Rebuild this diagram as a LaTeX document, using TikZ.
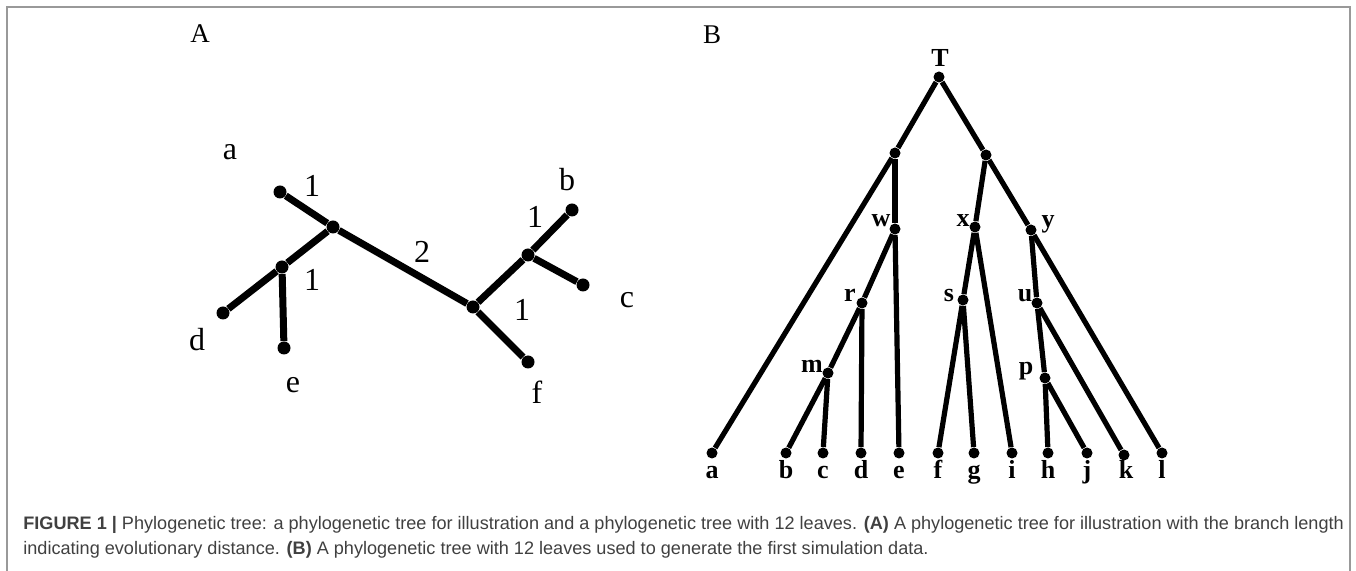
\documentclass[tikz,border=0pt]{standalone}
\usepackage{fontspec}
\setmainfont{Liberation Serif}
\setsansfont{Liberation Sans}
\begin{document}
\begin{tikzpicture}[x=0.5pt,y=-0.5pt,dot/.style={circle, fill=black, inner sep=0pt, minimum size=6.5pt},sdot/.style={dot, minimum size=5.5pt},branch/.style={line width=3.5pt},sbranch/.style={line width=2.6pt},lab/.style={inner sep=0pt, font=\fontsize{16}{16}\selectfont},blab/.style={inner sep=0pt, font=\fontsize{13}{13}\selectfont\bfseries},leaf/.style={blab, anchor=base},panel/.style={inner sep=0pt, font=\fontsize{13.5}{13.5}\selectfont},captext/.style={anchor=base west, inner sep=0pt, text=black!75, font=\sffamily\fontsize{9.05}{10}\selectfont}]
\useasboundingbox (0,0) rectangle (1356,571);
\draw[black!40, line width=1pt] (7,571) -- (7,7) -- (1350,7) -- (1350,571);
\node[panel] (pA) at (200,34) {A};\node[panel] (pB) at (712,35) {B};
\node[dot] (a) at (280,192) {};\node[dot] (n1) at (333,227) {};\node[dot] (n2) at (282,267) {};\node[dot] (d) at (223,313) {};\node[dot] (e) at (284,348) {};
\node[dot] (n3) at (473,307) {};\node[dot] (n4) at (528,255) {};\node[dot] (b) at (572,210) {};\node[dot] (c) at (583,285) {};\node[dot] (f) at (528,362) {};
\draw[branch] (a) -- (n1);\draw[branch] (n1) -- (n2);\draw[branch] (n2) -- (d);\draw[branch] (n2) -- (e);\draw[branch] (n1) -- (n3);
\draw[branch] (n3) -- (n4);\draw[branch] (n4) -- (b);\draw[branch] (n4) -- (c);\draw[branch] (n3) -- (f);
\node[lab] (la) at (230,152) {a};\node[lab] (ld) at (197,340) {d};\node[lab] (le) at (293,385) {e};\node[lab] (lb) at (567,180) {b};\node[lab] (lc) at (627,300) {c};\node[lab] (lf) at (537,392) {f};
\node[lab] (w1) at (312,186) {1};\node[lab] (w2) at (312,280) {1};\node[lab] (w3) at (422,252) {2};\node[lab] (w4) at (535,217) {1};\node[lab] (w5) at (522,310) {1};
\node[sdot] (T) at (939,77) {};\node[sdot] (q1) at (895,153) {};\node[sdot] (q2) at (986,155) {};
\node[sdot] (w) at (895,229) {};\node[sdot] (x) at (975,227) {};\node[sdot] (y) at (1031,230) {};
\node[sdot] (r) at (862,303) {};\node[sdot] (s) at (963,300) {};\node[sdot] (u) at (1037,303) {};
\node[sdot] (m) at (828,373) {};\node[sdot] (p) at (1045,378) {};
\node[sdot] (ta) at (712,453) {};\node[sdot] (tb) at (786,453) {};\node[sdot] (tc) at (823,453) {};\node[sdot] (td) at (861,453) {};\node[sdot] (te) at (899,453) {};\node[sdot] (tf) at (938,453) {};
\node[sdot] (tg) at (974,453) {};\node[sdot] (ti) at (1012,453) {};\node[sdot] (th) at (1048,453) {};\node[sdot] (tj) at (1087,453) {};\node[sdot] (tk) at (1124,455) {};\node[sdot] (tl) at (1162,453) {};
\draw[sbranch] (T) -- (q1);\draw[sbranch] (q1) -- (ta);\draw[sbranch] (q1) -- (w);\draw[sbranch] (w) -- (te);\draw[sbranch] (w) -- (r);\draw[sbranch] (r) -- (td);
\draw[sbranch] (r) -- (m);\draw[sbranch] (m) -- (tb);\draw[sbranch] (m) -- (tc);
\draw[sbranch] (T) -- (q2);\draw[sbranch] (q2) -- (x);\draw[sbranch] (q2) -- (y);\draw[sbranch] (x) -- (s);\draw[sbranch] (x) -- (ti);\draw[sbranch] (s) -- (tf);\draw[sbranch] (s) -- (tg);
\draw[sbranch] (y) -- (tl);\draw[sbranch] (y) -- (u);\draw[sbranch] (u) -- (tk);\draw[sbranch] (u) -- (p);\draw[sbranch] (p) -- (th);\draw[sbranch] (p) -- (tj);
\node[blab] (lT) at (940,58) {T};\node[blab] (lw) at (881,221) {w};\node[blab] (lx) at (963,221) {x};\node[blab] (ly) at (1048,224) {y};
\node[blab] (lr) at (850,295) {r};\node[blab] (ls) at (949,296) {s};\node[blab] (lu) at (1025,296) {u};\node[blab] (lm) at (812,366) {m};\node[blab] (lp) at (1026,371) {p};
\node[leaf] (lta) at (712,479) {a};\node[leaf] (ltb) at (786,479) {b};\node[leaf] (ltc) at (823,479) {c};\node[leaf] (ltd) at (861,479) {d};\node[leaf] (lte) at (899,479) {e};\node[leaf] (ltf) at (938,479) {f};
\node[leaf] (ltg) at (974,479) {g};\node[leaf] (lti) at (1012,479) {i};\node[leaf] (lth) at (1048,479) {h};\node[leaf] (ltj) at (1087,479) {j};\node[leaf] (ltk) at (1126,479) {k};\node[leaf] (ltl) at (1162,479) {l};
\node[captext] (cap1) at (23,530) {\textbf{FIGURE 1 |} Phylogenetic tree: a phylogenetic tree for illustration and a phylogenetic tree with 12 leaves. \textbf{(A)} A phylogenetic tree for illustration with the branch length};
\node[captext] (cap2) at (23,555) {indicating evolutionary distance. \textbf{(B)} A phylogenetic tree with 12 leaves used to generate the first simulation data.};
\end{tikzpicture}
\end{document}
